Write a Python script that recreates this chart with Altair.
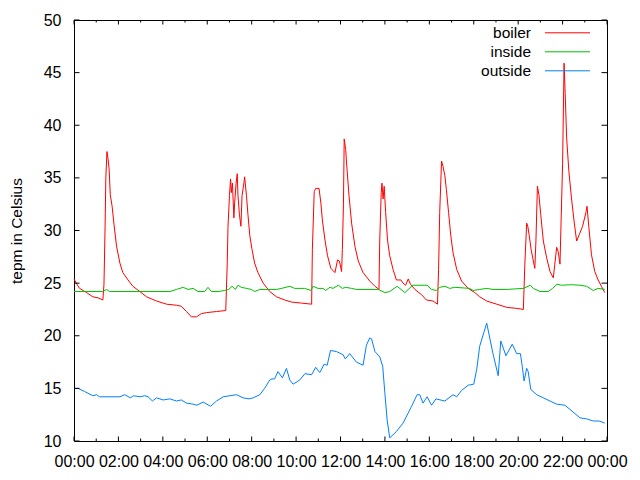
import altair as alt
import pandas as pd

# ---- data (time in minutes since 00:00, temperature in °C)
boiler_t = [0, 6, 15, 34, 51, 65, 78, 81, 84, 86, 89, 92, 95, 98, 103, 108, 115, 124, 132, 146,
            159, 178, 196, 223, 250, 277, 290, 304, 317, 331, 344, 358, 385, 410, 414, 416, 420,
            423, 425, 428, 432, 434, 438, 441, 443, 447, 451, 454, 459, 461, 466, 470, 475, 481,
            488, 497, 511, 529, 547, 569, 588, 615, 642, 644, 649, 653, 662, 667, 671, 678, 685,
            694, 705, 712, 717, 723, 725, 728, 730, 734, 736, 743, 750, 759, 768, 781, 799, 813,
            824, 826, 830, 832, 835, 838, 842, 847, 853, 862, 871, 883, 889, 896, 903, 909, 921,
            939, 952, 970, 982, 985, 988, 993, 997, 1002, 1006, 1012, 1018, 1024, 1034, 1047,
            1065, 1083, 1096, 1115, 1142, 1169, 1196, 1214, 1218, 1223, 1226, 1230, 1235, 1241,
            1245, 1248, 1252, 1256, 1261, 1268, 1277, 1286, 1295, 1299, 1304, 1308, 1313, 1316,
            1320, 1324, 1327, 1331, 1337, 1344, 1351, 1358, 1365, 1374, 1383, 1386, 1391, 1398,
            1407, 1416, 1425, 1434]
boiler_v = [25.4, 25.0, 24.5, 24.1, 23.7, 23.6, 23.4, 24.9, 30.4, 35.0, 37.5, 36.8, 35.8, 33.4,
            32.3, 30.6, 28.5, 26.9, 26.0, 25.3, 24.7, 24.2, 23.7, 23.3, 23.0, 22.9, 22.8, 22.3,
            21.8, 21.8, 22.1, 22.2, 22.3, 22.4, 26.9, 30.3, 33.3, 34.9, 33.6, 34.5, 31.2, 32.6,
            34.5, 35.4, 33.3, 31.5, 30.4, 33.3, 34.5, 35.1, 33.3, 31.5, 29.5, 28.2, 26.9, 26.0,
            25.0, 24.2, 23.7, 23.4, 23.2, 23.1, 23.0, 28.2, 33.7, 34.0, 34.0, 32.6, 31.0, 29.1,
            27.6, 26.4, 26.0, 27.2, 27.1, 26.1, 28.2, 32.5, 38.7, 37.7, 36.6, 33.3, 30.7, 28.5,
            27.1, 26.0, 25.2, 24.7, 24.4, 29.1, 33.6, 34.5, 33.0, 34.2, 31.7, 29.1, 27.6, 26.3,
            25.3, 25.3, 25.0, 24.8, 25.4, 24.9, 24.4, 23.9, 23.4, 23.3, 23.0, 26.3, 31.7, 36.6,
            36.1, 35.2, 33.9, 31.7, 29.5, 27.9, 26.3, 25.2, 24.5, 24.1, 23.7, 23.3, 23.0, 22.7,
            22.6, 22.5, 26.8, 30.7, 30.4, 29.5, 28.2, 27.1, 26.4, 29.0, 34.2, 33.4, 31.5, 29.0,
            27.4, 26.1, 25.5, 26.8, 28.4, 28.0, 26.8, 30.9, 36.3, 45.9, 43.0, 38.8, 35.6, 33.1,
            30.9, 29.0, 29.6, 30.4, 31.7, 32.3, 30.3, 27.7, 26.1, 25.3, 24.7, 24.1]

inside_t = [0, 78, 88, 96, 205, 259, 277, 295, 308, 322, 335, 353, 362, 371, 389, 407, 418, 427,
            436, 443, 452, 466, 479, 488, 502, 547, 561, 583, 596, 623, 640, 646, 659, 673, 680,
            691, 700, 714, 725, 734, 750, 763, 822, 840, 853, 873, 894, 915, 954, 966, 979, 988,
            1002, 1015, 1029, 1069, 1078, 1096, 1115, 1132, 1169, 1214, 1233, 1241, 1259, 1281,
            1293, 1305, 1317, 1344, 1367, 1385, 1403, 1416, 1434]
inside_v = [24.2, 24.2, 24.4, 24.2, 24.2, 24.2, 24.4, 24.6, 24.4, 24.5, 24.2, 24.2, 24.6, 24.2,
            24.2, 24.3, 24.4, 24.7, 24.4, 24.8, 24.6, 24.5, 24.4, 24.2, 24.4, 24.4, 24.5, 24.7,
            24.5, 24.5, 24.3, 24.7, 24.5, 24.5, 24.3, 24.6, 24.5, 24.8, 24.5, 24.6, 24.5, 24.4,
            24.4, 24.1, 24.2, 24.7, 24.1, 24.8, 24.8, 24.4, 24.3, 24.6, 24.7, 24.5, 24.6, 24.5,
            24.3, 24.4, 24.5, 24.4, 24.4, 24.5, 24.8, 24.5, 24.2, 24.2, 24.5, 24.9, 24.8, 24.85,
            24.8, 24.7, 24.3, 24.5, 24.4]

outside_t = [0, 11, 29, 51, 61, 69, 124, 137, 152, 161, 178, 191, 200, 212, 223, 241, 259, 277,
             290, 304, 322, 332, 349, 359, 369, 385, 403, 421, 439, 457, 473, 484, 502, 515, 529,
             535, 542, 551, 563, 574, 583, 592, 610, 624, 642, 653, 664, 676, 684, 693, 709, 727,
             733, 745, 763, 781, 790, 799, 804, 813, 826, 834, 840, 846, 853, 871, 889, 912, 927,
             934, 943, 954, 966, 978, 1002, 1024, 1034, 1047, 1065, 1080, 1088, 1096, 1115, 1132,
             1146, 1153, 1167, 1184, 1196, 1206, 1211, 1216, 1223, 1227, 1234, 1250, 1268, 1286,
             1304, 1326, 1340, 1367, 1385, 1403, 1419, 1434]
outside_v = [15.0, 15.0, 14.7, 14.3, 14.4, 14.2, 14.2, 14.4, 14.1, 14.3, 14.2, 14.3, 14.2, 13.8,
             14.1, 13.9, 14.0, 13.8, 13.9, 13.6, 13.5, 13.4, 13.7, 13.5, 13.3, 13.8, 14.2, 14.3,
             14.4, 14.1, 14.0, 14.1, 14.4, 15.0, 15.8, 15.9, 15.9, 16.6, 16.0, 16.9, 15.8, 15.4,
             15.8, 16.4, 16.3, 17.0, 16.5, 17.3, 17.2, 18.6, 18.5, 18.2, 17.8, 18.3, 17.5, 17.2,
             19.1, 19.8, 19.7, 18.5, 18.0, 17.1, 14.5, 12.0, 10.3, 10.9, 11.7, 13.3, 14.4, 14.4,
             13.6, 14.2, 13.4, 14.0, 13.8, 14.4, 14.2, 14.8, 15.3, 15.4, 16.8, 19.0, 21.2, 18.3,
             16.2, 19.5, 18.1, 19.2, 18.3, 18.3, 17.1, 15.7, 16.9, 16.6, 14.9, 14.4, 14.1, 13.8,
             13.5, 13.4, 13.0, 12.2, 12.1, 11.9, 11.9, 11.7]

series_names = ["boiler", "inside", "outside"]
series_colors = ["#ff0000", "#00c000", "#0080ff"]
x_tick_labels_hours = list(range(0, 25, 2))
x_minor_hours = list(range(1, 24, 2))
y_ticks = list(range(10, 51, 5))

rows = []
for name, ts, vs in [("boiler", boiler_t, boiler_v),
                     ("inside", inside_t, inside_v),
                     ("outside", outside_t, outside_v)]:
    for t, v in zip(ts, vs):
        rows.append({"series": name, "h": t / 60.0, "v": v})
df = pd.DataFrame(rows)

W, H = 533, 421
FONT = "Liberation Sans"

xscale = alt.Scale(domain=[0, 24], nice=False, zero=False)
yscale = alt.Scale(domain=[10, 50], nice=False, zero=False)
xaxis = alt.Axis(values=x_tick_labels_hours, title=None, ticks=False, grid=False, domain=False,
                 labelPadding=12, labelOverlap=False, labelFlush=False,
                 labelExpr="(datum.value % 24 < 10 ? '0' : '') + (datum.value % 24) + ':00'")
yaxis = alt.Axis(values=y_ticks, title="tepm in Celsius", ticks=False, grid=False, domain=False,
                 labelPadding=13, labelOverlap=False, labelFlush=False,
                 titleAngle=-90, titleBaseline="middle", titleAlign="center",
                 titleX=-58, titleY=H / 2)
X = alt.X("h:Q", scale=xscale, axis=xaxis)
Y = alt.Y("v:Q", scale=yscale, axis=yaxis)
color = alt.Color("series:N", scale=alt.Scale(domain=series_names, range=series_colors), legend=None)

lines = alt.Chart(df).mark_line(strokeWidth=1).encode(x=X, y=Y, color=color)

maj = pd.DataFrame({"h": x_tick_labels_hours})
mnr = pd.DataFrame({"h": x_minor_hours})
yt = pd.DataFrame({"v": y_ticks})
rule = dict(color="black", strokeWidth=1)
tick_layers = [
    alt.Chart(maj).mark_rule(**rule).encode(x=X, y=alt.value(H), y2=alt.value(H - 4.5)),
    alt.Chart(maj).mark_rule(**rule).encode(x=X, y=alt.value(0), y2=alt.value(4.5)),
    alt.Chart(mnr).mark_rule(**rule).encode(x=X, y=alt.value(H), y2=alt.value(H - 2.5)),
    alt.Chart(mnr).mark_rule(**rule).encode(x=X, y=alt.value(0), y2=alt.value(2.5)),
    alt.Chart(yt).mark_rule(**rule).encode(y=Y, x=alt.value(0), x2=alt.value(5.5)),
    alt.Chart(yt).mark_rule(**rule).encode(y=Y, x=alt.value(W), x2=alt.value(W - 5.5)),
]

main = alt.layer(lines, *tick_layers)

leg = pd.DataFrame({"series": series_names})
leg_y = alt.Y("series:N", scale=alt.Scale(type="point", domain=series_names, range=[12.8, 50.8],
                                          padding=0), axis=None)
leg_text = alt.Chart(leg).mark_text(align="right", baseline="middle", fontSize=15.5, font=FONT,
                                    color="black").encode(text="series:N", y=leg_y, x=alt.value(457))
leg_line = alt.Chart(leg).mark_rule(strokeWidth=1).encode(y=leg_y, x=alt.value(471),
                                                          x2=alt.value(516), color=color)
legend = alt.layer(leg_text, leg_line)

chart = alt.layer(main, legend).resolve_scale(y="independent").properties(
    width=W, height=H,
    padding={"left": 74, "top": 20, "right": 33, "bottom": 39},
    autosize=alt.AutoSizeParams(type="none"),
    background="white",
).configure_view(stroke="black", strokeWidth=1).configure_axis(
    labelFont=FONT, labelFontSize=16, labelColor="black",
    titleFont=FONT, titleFontSize=15.5, titleFontWeight="normal", titleColor="black",
)

chart.save("out.html", embed_options={"renderer": "svg", "actions": False})
